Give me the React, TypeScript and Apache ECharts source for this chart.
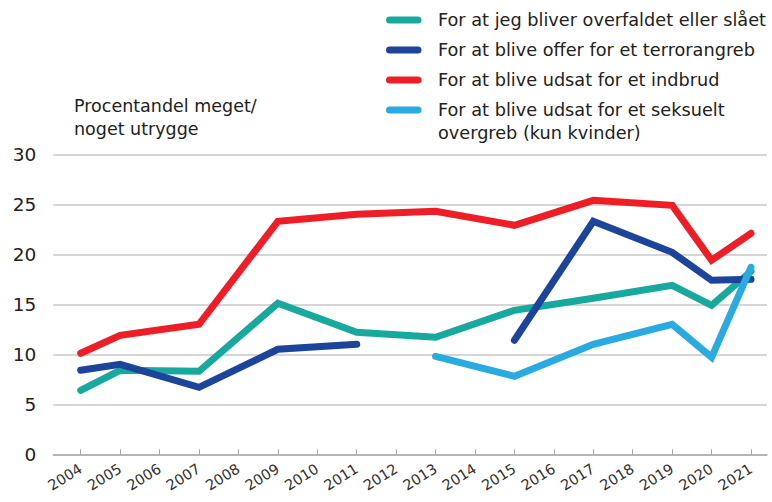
import React, { useEffect, useRef } from "react";
import * as echarts from "echarts";

const years = [2004, 2005, 2006, 2007, 2008, 2009, 2010, 2011, 2012, 2013, 2014, 2015, 2016, 2017, 2018, 2019, 2020, 2021];
const yTicks = [0, 5, 10, 15, 20, 25, 30];

const seriesNames = [
  "For at jeg bliver overfaldet eller slået",
  "For at blive offer for et terrorangreb",
  "For at blive udsat for et indbrud",
  "For at blive udsat for et seksuelt\novergreb (kun kvinder)",
];
const seriesColors = ["#17a89e", "#1c449b", "#ee1d26", "#29abe2"];

const overfaldet: [number, number | string][] = [
  [2004, 6.4], [2005, 8.4], [2007, 8.3], [2009, 15.1], [2011, 12.2], [2013, 11.7],
  [2015, 14.4], [2017, 15.6], [2019, 16.9], [2020, 14.9], [2021, 18.3],
];
const terror: [number, number | string][] = [
  [2004, 8.4], [2005, 9.0], [2007, 6.7], [2009, 10.5], [2011, 11.0], [2013, "-"],
  [2015, 11.4], [2017, 23.3], [2019, 20.2], [2020, 17.4], [2021, 17.5],
];
const indbrud: [number, number | string][] = [
  [2004, 10.1], [2005, 11.9], [2007, 13.0], [2009, 23.3], [2011, 24.0], [2013, 24.3],
  [2015, 22.9], [2017, 25.4], [2019, 24.9], [2020, 19.4], [2021, 22.1],
];
const seksuelt: [number, number | string][] = [
  [2013, 9.8], [2015, 7.8], [2017, 11.0], [2019, 13.0], [2020, 9.7], [2021, 18.7],
];

const allData = [overfaldet, terror, indbrud, seksuelt];
const FONT = "'DejaVu Sans', 'Open Sans', sans-serif";

export default function App() {
  const ref = useRef<HTMLDivElement>(null);
  useEffect(() => {
    document.body.style.margin = "0";
    const chart = echarts.init(ref.current!, null, { renderer: "svg" });
    const legendGraphics: any[] = [];
    const rowY = [20, 50, 80, 110];
    seriesNames.forEach((name, i) => {
      legendGraphics.push({
        type: "line",
        shape: { x1: 389.5, y1: rowY[i], x2: 418, y2: rowY[i] },
        style: { stroke: seriesColors[i], lineWidth: 7, lineCap: "round" },
      });
      legendGraphics.push({
        type: "text",
        x: 438,
        y: rowY[i] - 11.5,
        style: {
          text: name,
          fill: "#222",
          font: `17.7px ${FONT}`,
          lineHeight: 23,
          textVerticalAlign: "top",
        },
      });
    });
    chart.setOption({
      animation: false,
      textStyle: { fontFamily: FONT },
      title: {
        text: "Procentandel meget/\nnoget utrygge",
        left: 69,
        top: 89,
        textStyle: { fontSize: 17.5, fontWeight: "normal", color: "#222", lineHeight: 23, fontFamily: FONT },
      },
      graphic: legendGraphics,
      grid: { left: 53.3, right: 5, top: 154.3, bottom: 47.7, containLabel: false },
      xAxis: {
        type: "value",
        min: 2003.305,
        max: 2021.406,
        axisLine: { show: true, lineStyle: { color: "#aaaaaa", width: 1.5 } },
        axisTick: { show: true, inside: true, length: 5, customValues: years, lineStyle: { color: "#aaaaaa", width: 1 } },
        axisLabel: {
          customValues: years,
          rotate: 32,
          fontSize: 14.5,
          color: "#333",
          margin: 13,
          formatter: (v: number) => String(v),
        },
        splitLine: { show: false },
      },
      yAxis: {
        type: "value",
        min: 0,
        max: 30,
        interval: 5,
        axisLine: { show: false },
        axisTick: { show: false },
        axisLabel: {
          fontSize: 18.5,
          color: "#222",
          margin: 17,
          customValues: yTicks,
        },
        splitLine: { lineStyle: { color: "#c8c8c8", width: 1.5 } },
      },
      series: allData.map((d, i) => ({
        name: seriesNames[i],
        type: "line",
        data: d,
        showSymbol: false,
        symbol: "none",
        connectNulls: false,
        lineStyle: { color: seriesColors[i], width: 7, cap: "round", join: "miter" },
        itemStyle: { color: seriesColors[i] },
        z: 2 + i,
      })),
    });
    return () => chart.dispose();
  }, []);
  return <div ref={ref} style={{ position: "absolute", left: 0, top: 0, width: 772, height: 502 }} />;
}
